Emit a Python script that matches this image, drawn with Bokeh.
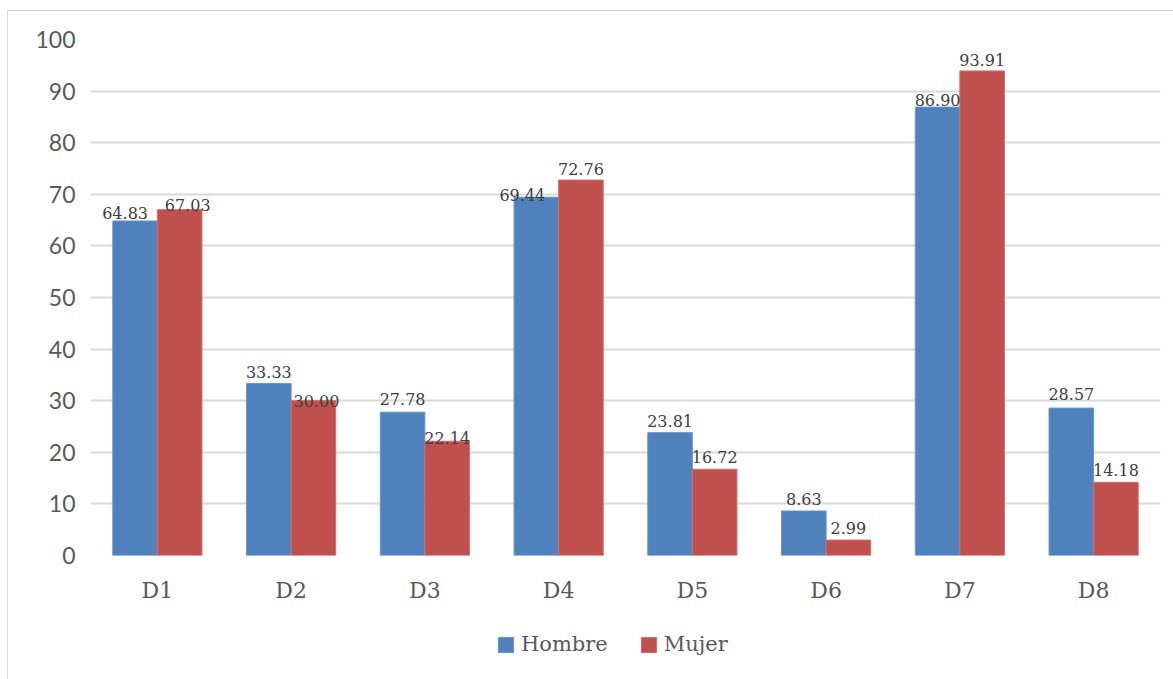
from bokeh.plotting import figure
from bokeh.layouts import column
from bokeh.models import ColumnDataSource, FactorRange, Legend, LegendItem, Range1d
from bokeh.transform import dodge
from bokeh.core.properties import value
from bokeh.embed import file_html
from bokeh.resources import INLINE

categories = ["D1", "D2", "D3", "D4", "D5", "D6", "D7", "D8"]
hombre = [64.83, 33.33, 27.78, 69.44, 23.81, 8.63, 86.90, 28.57]
mujer = [67.03, 30.00, 22.14, 72.76, 16.72, 2.99, 93.91, 14.18]

# label nudges (screen px) to mimic the reference's label placement
h_dx = [-10, 0, 0, -14, 0, 0, 0, 0]
h_dy = [-7.5, -12, -13, -2, -12, -12, -6.6, -13.6]
m_dx = [8, 3, 0, 0, 0, 0, 0, 0]
m_dy = [-5, 0, -3, -11.5, -12, -12, -11.4, -12]

BLUE = "#4F81BD"
RED = "#C0504D"

src = ColumnDataSource(dict(
    cat=categories, hombre=hombre, mujer=mujer,
    hl=[f"{v:.2f}" for v in hombre], ml=[f"{v:.2f}" for v in mujer],
    hdx=h_dx, hdy=h_dy, mdx=m_dx, mdy=m_dy,
))

p = figure(x_range=FactorRange(*categories, range_padding=0), y_range=(0, 100),
           width=1165, height=615, output_backend="svg", toolbar_location=None,
           min_border_left=82, min_border_right=13, min_border_top=28, min_border_bottom=71)
p.outline_line_color = None
p.background_fill_color = "white"
p.border_fill_color = "white"

w = 1/3
p.vbar(x=dodge("cat", -w/2, range=p.x_range), top="hombre", width=w, source=src,
       fill_color=BLUE, line_color="#6b96cb", line_width=1)
p.vbar(x=dodge("cat", w/2, range=p.x_range), top="mujer", width=w, source=src,
       fill_color=RED, line_color="#cc6f6c", line_width=1)

p.text(x=dodge("cat", -w/2, range=p.x_range), y="hombre", text="hl", source=src,
       x_offset="hdx", y_offset="hdy", text_align="center", text_baseline="middle",
       text_font=value("DejaVu Serif"), text_font_size="16px", text_color="#404040")
p.text(x=dodge("cat", w/2, range=p.x_range), y="mujer", text="ml", source=src,
       x_offset="mdx", y_offset="mdy", text_align="center", text_baseline="middle",
       text_font=value("DejaVu Serif"), text_font_size="16px", text_color="#404040")

p.xgrid.grid_line_color = None
p.ygrid.grid_line_color = "#d9d9d9"
p.ygrid.grid_line_width = 2
p.yaxis.ticker = list(range(0, 101, 10))

for ax in (p.xaxis, p.yaxis):
    ax.axis_line_color = None
    ax.major_tick_line_color = None
    ax.minor_tick_line_color = None
    ax.major_tick_out = 0
    ax.minor_tick_out = 0
    ax.major_label_text_color = "#595959"

p.yaxis.major_label_text_font = "Lato"
p.yaxis.major_label_text_font_size = "23px"
p.yaxis.major_label_standoff = 15
p.xaxis.major_label_text_font = "DejaVu Serif"
p.xaxis.major_label_text_font_size = "22px"
p.xaxis.major_label_standoff = 22

# legend strip (same series, drawn outside its visible range so only the legend shows)
lg = figure(x_range=FactorRange(*categories), y_range=Range1d(500, 600),
            width=1165, height=53, output_backend="svg", toolbar_location=None,
            min_border=0, min_border_left=0, min_border_right=0,
            min_border_top=0, min_border_bottom=0)
lg.axis.visible = False
lg.grid.visible = False
lg.outline_line_color = None
lh = lg.vbar(x="cat", top="hombre", width=0.3, source=src,
             fill_color=BLUE, line_color="#6b96cb")
lm = lg.vbar(x="cat", top="mujer", width=0.3, source=src,
             fill_color=RED, line_color="#cc6f6c")
legend = Legend(items=[LegendItem(label="Hombre", renderers=[lh]),
                       LegendItem(label="Mujer", renderers=[lm])],
                location=(406, 23), orientation="horizontal",
                glyph_width=19, glyph_height=19, label_standoff=6, spacing=31,
                padding=0, margin=0, border_line_color=None, background_fill_alpha=0,
                label_text_font="DejaVu Serif", label_text_font_size="21px",
                label_text_color="#595959", label_height=19)
lg.add_layout(legend, "center")

layout = column(p, lg, spacing=0)
layout.styles = {"border-top": "1px solid #d9d9d9", "border-left": "1px solid #d9d9d9",
                 "margin-left": "7px", "margin-top": "10px"}

open("out.html", "w").write(file_html(layout, INLINE))
